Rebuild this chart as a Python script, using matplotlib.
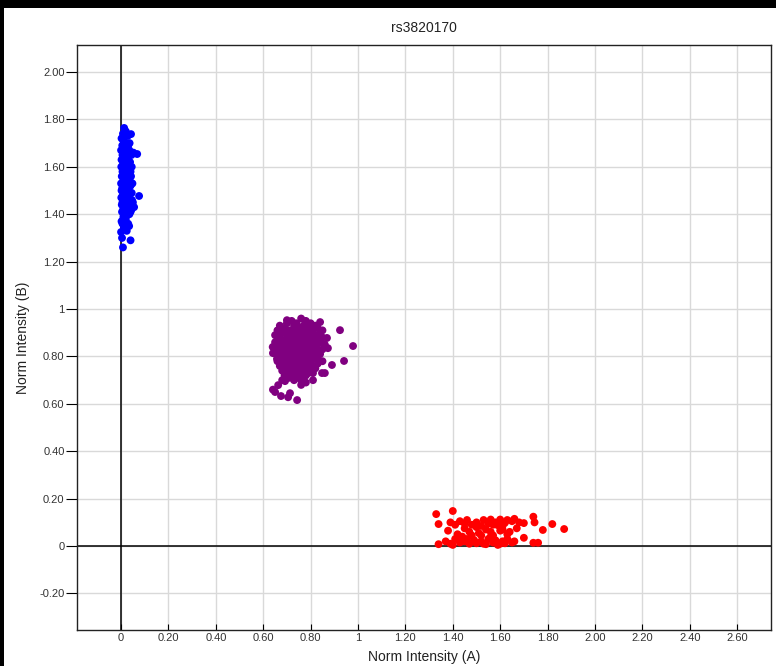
#Genotype cluster plot for rs3820170

import matplotlib
matplotlib.use('Agg')
import matplotlib.pyplot as plt
from matplotlib.patches import Rectangle

title = 'rs3820170'
x_label = 'Norm Intensity (A)'
y_label = 'Norm Intensity (B)'

x_ticks = [0, 0.2, 0.4, 0.6, 0.8, 1.0, 1.2, 1.4, 1.6, 1.8, 2.0, 2.2, 2.4, 2.6]
y_ticks = [-0.2, 0, 0.2, 0.4, 0.6, 0.8, 1.0, 1.2, 1.4, 1.6, 1.8, 2.0]

# BB cluster (blue)
blue_points = [
    (0.013, 1.764), (0.042, 1.738), (0.068, 1.654), (0.076, 1.477), (0.046, 1.460),
    (0.040, 1.410), (0.000, 1.325), (0.040, 1.290), (0.008, 1.260), (0.004, 1.300),
    (0.034, 1.350), (0.008, 1.376), (0.002, 1.72), (0.010, 1.71), (0.020, 1.70),
    (0.030, 1.69), (0.005, 1.69), (0.015, 1.68), (0.025, 1.68), (0.035, 1.67),
    (0.000, 1.67), (0.012, 1.66), (0.022, 1.66), (0.044, 1.65), (0.052, 1.66),
    (0.006, 1.65), (0.018, 1.64), (0.030, 1.64), (0.002, 1.63), (0.014, 1.63),
    (0.026, 1.62), (0.038, 1.62), (0.008, 1.61), (0.020, 1.61), (0.032, 1.60),
    (0.001, 1.60), (0.012, 1.59), (0.024, 1.59), (0.040, 1.58), (0.006, 1.58),
    (0.018, 1.57), (0.030, 1.57), (0.003, 1.56), (0.015, 1.56), (0.027, 1.55),
    (0.036, 1.55), (0.009, 1.54), (0.021, 1.54), (0.000, 1.53), (0.012, 1.53),
    (0.028, 1.52), (0.040, 1.52), (0.005, 1.51), (0.017, 1.51), (0.030, 1.50),
    (0.002, 1.50), (0.014, 1.49), (0.024, 1.49), (0.045, 1.49), (0.007, 1.48),
    (0.019, 1.48), (0.034, 1.47), (0.001, 1.47), (0.012, 1.46), (0.026, 1.46),
    (0.006, 1.45), (0.018, 1.45), (0.040, 1.44), (0.003, 1.44), (0.014, 1.43),
    (0.028, 1.43), (0.009, 1.42), (0.022, 1.42), (0.044, 1.42), (0.004, 1.41),
    (0.016, 1.40), (0.035, 1.40), (0.010, 1.39), (0.020, 1.38), (0.002, 1.37),
    (0.030, 1.36), (0.012, 1.34), (0.024, 1.33), (0.006, 1.36), (0.050, 1.45),
    (0.055, 1.43), (0.036, 1.70), (0.028, 1.73), (0.045, 1.60), (0.048, 1.53),
    (0.042, 1.56), (0.020, 1.75), (0.008, 1.74),
]

# AB cluster (purple)
purple_points = [
    (0.72, 0.95), (0.76, 0.96), (0.78, 0.95), (0.70, 0.94), (0.74, 0.94), (0.80, 0.94),
    (0.67, 0.93), (0.73, 0.93), (0.77, 0.93), (0.82, 0.93), (0.69, 0.92), (0.75, 0.92),
    (0.79, 0.92), (0.83, 0.92), (0.66, 0.91), (0.71, 0.91), (0.74, 0.91), (0.78, 0.91),
    (0.81, 0.91), (0.85, 0.91), (0.68, 0.90), (0.72, 0.90), (0.76, 0.90), (0.80, 0.90),
    (0.84, 0.90), (0.65, 0.89), (0.70, 0.89), (0.74, 0.89), (0.77, 0.89), (0.79, 0.89),
    (0.82, 0.89), (0.67, 0.88), (0.71, 0.88), (0.73, 0.88), (0.76, 0.88), (0.80, 0.88),
    (0.85, 0.88), (0.66, 0.87), (0.69, 0.87), (0.72, 0.87), (0.75, 0.87), (0.78, 0.87),
    (0.81, 0.87), (0.83, 0.87), (0.68, 0.86), (0.70, 0.86), (0.74, 0.86), (0.77, 0.86),
    (0.79, 0.86), (0.84, 0.86), (0.66, 0.85), (0.71, 0.85), (0.73, 0.85), (0.76, 0.85),
    (0.80, 0.85), (0.82, 0.85), (0.86, 0.85), (0.64, 0.84), (0.69, 0.84), (0.72, 0.84),
    (0.75, 0.84), (0.78, 0.84), (0.81, 0.84), (0.67, 0.83), (0.70, 0.83), (0.74, 0.83),
    (0.77, 0.83), (0.79, 0.83), (0.83, 0.83), (0.85, 0.83), (0.65, 0.82), (0.68, 0.82),
    (0.71, 0.82), (0.73, 0.82), (0.76, 0.82), (0.80, 0.82), (0.82, 0.82), (0.66, 0.81),
    (0.70, 0.81), (0.72, 0.81), (0.75, 0.81), (0.78, 0.81), (0.81, 0.81), (0.84, 0.81),
    (0.67, 0.80), (0.69, 0.80), (0.74, 0.80), (0.77, 0.80), (0.79, 0.80), (0.83, 0.80),
    (0.68, 0.79), (0.71, 0.79), (0.73, 0.79), (0.76, 0.79), (0.80, 0.79), (0.82, 0.79),
    (0.66, 0.78), (0.70, 0.78), (0.72, 0.78), (0.75, 0.78), (0.78, 0.78), (0.85, 0.78),
    (0.68, 0.77), (0.71, 0.77), (0.74, 0.77), (0.77, 0.77), (0.80, 0.77), (0.83, 0.77),
    (0.67, 0.76), (0.70, 0.76), (0.73, 0.76), (0.76, 0.76), (0.79, 0.76), (0.69, 0.75),
    (0.72, 0.75), (0.75, 0.75), (0.78, 0.75), (0.82, 0.75), (0.68, 0.74), (0.71, 0.74),
    (0.74, 0.74), (0.77, 0.74), (0.80, 0.74), (0.70, 0.73), (0.73, 0.73), (0.76, 0.73),
    (0.79, 0.73), (0.81, 0.73), (0.69, 0.72), (0.72, 0.72), (0.75, 0.72), (0.78, 0.72),
    (0.71, 0.71), (0.74, 0.71), (0.77, 0.71), (0.68, 0.70), (0.73, 0.70), (0.76, 0.70),
    (0.924, 0.911), (0.979, 0.844), (0.941, 0.781), (0.890, 0.764), (0.848, 0.730),
    (0.860, 0.730), (0.650, 0.650), (0.641, 0.660), (0.675, 0.633), (0.743, 0.616),
    (0.713, 0.645), (0.663, 0.679), (0.692, 0.696), (0.650, 0.860), (0.641, 0.814),
    (0.658, 0.790), (0.700, 0.953), (0.684, 0.903), (0.840, 0.945), (0.869, 0.878),
    (0.873, 0.835), (0.705, 0.628), (0.780, 0.690), (0.760, 0.680), (0.810, 0.700),
]

# AA cluster (red)
red_points = [
    (1.34, 0.008), (1.37, 0.020), (1.39, 0.010), (1.41, 0.030), (1.43, 0.015),
    (1.45, 0.020), (1.47, 0.010), (1.49, 0.025), (1.50, 0.012), (1.52, 0.020),
    (1.54, 0.008), (1.55, 0.030), (1.57, 0.015), (1.58, 0.025), (1.60, 0.010),
    (1.61, 0.020), (1.63, 0.030), (1.65, 0.015), (1.66, 0.020), (1.70, 0.035),
    (1.74, 0.014), (1.76, 0.014), (1.40, 0.005), (1.46, 0.030), (1.53, 0.010),
    (1.59, 0.005), (1.62, 0.012), (1.44, 0.040), (1.48, 0.045), (1.56, 0.040),
    (1.38, 0.065), (1.42, 0.050), (1.47, 0.060), (1.51, 0.055), (1.54, 0.070),
    (1.57, 0.045), (1.60, 0.065), (1.63, 0.050), (1.67, 0.075), (1.45, 0.075),
    (1.50, 0.080), (1.56, 0.060), (1.61, 0.070), (1.64, 0.060), (1.78, 0.068),
    (1.87, 0.072), (1.52, 0.045), (1.33, 0.135), (1.40, 0.148), (1.34, 0.093),
    (1.39, 0.100), (1.41, 0.090), (1.43, 0.105), (1.45, 0.095), (1.46, 0.110),
    (1.48, 0.090), (1.50, 0.100), (1.52, 0.085), (1.53, 0.110), (1.55, 0.095),
    (1.56, 0.112), (1.58, 0.100), (1.59, 0.088), (1.60, 0.112), (1.62, 0.098),
    (1.63, 0.110), (1.65, 0.105), (1.66, 0.115), (1.68, 0.100), (1.74, 0.124),
    (1.745, 0.100), (1.82, 0.093), (1.70, 0.097), (1.57, 0.090), (1.61, 0.085),
]

plt.rcParams['font.family'] = ['Liberation Sans', 'DejaVu Sans']

fig = plt.figure(figsize=(7.76, 6.66), dpi=100)
fig.patch.set_facecolor('white')
# black window edges at the top and left
fig.add_artist(Rectangle((0, (666 - 8) / 666), 1, 8 / 666, transform=fig.transFigure,
                         facecolor='black', edgecolor='none'))
fig.add_artist(Rectangle((0, 0), 4 / 776, 1, transform=fig.transFigure,
                         facecolor='black', edgecolor='none'))

ax = fig.add_axes([77 / 776, 36 / 666, 694 / 776, 585 / 666])
ax.set_facecolor('white')

for pts, col in [(blue_points, '#0000ff'), (purple_points, '#800080'), (red_points, '#ff0000')]:
    xs = [p[0] for p in pts]
    ys = [p[1] for p in pts]
    ax.scatter(xs, ys, s=32, color=col, edgecolors='none', zorder=3)

ax.axhline(0, color='black', linewidth=1.1, zorder=2)
ax.axvline(0, color='black', linewidth=1.1, zorder=2)

ax.set_xlim(-0.186, 2.743)
ax.set_ylim(-0.354, 2.114)

def fmt(v):
    if abs(v) < 1e-9:
        return '0'
    if abs(v - 1) < 1e-9:
        return '1'
    return '%.2f' % v

ax.set_xticks(x_ticks)
ax.set_xticklabels([fmt(v) for v in x_ticks])
ax.set_yticks(y_ticks)
ax.set_yticklabels([fmt(v) for v in y_ticks])
ax.grid(True, color='#d9d9d9', linewidth=1, zorder=1)
ax.set_axisbelow(True)

ax.tick_params(axis='x', direction='in', length=4, pad=2, labelsize=8, labelcolor='#333333')
ax.tick_params(axis='y', direction='out', length=8, pad=1, labelsize=8, labelcolor='#333333')
for s in ax.spines.values():
    s.set_color('#222222')
    s.set_linewidth(1)

ax.set_title(title, fontsize=10, color='#222222', pad=9)
ax.set_xlabel(x_label, fontsize=10, color='#222222', labelpad=5)
ax.set_ylabel(y_label, fontsize=10, color='#222222', labelpad=7)

fig.savefig('out.png', dpi=100, facecolor=fig.get_facecolor())
